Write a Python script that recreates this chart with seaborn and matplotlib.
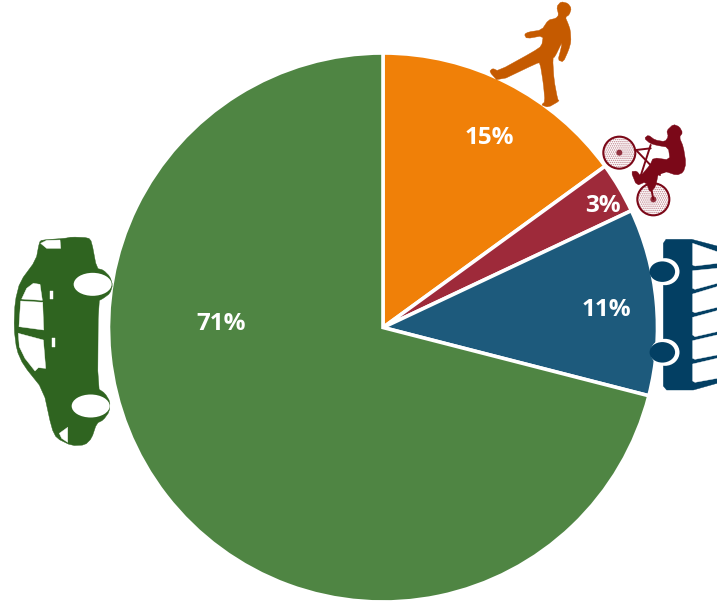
import matplotlib
matplotlib.use("Agg")
import matplotlib.pyplot as plt
import seaborn as sns
from matplotlib.patches import Polygon, Ellipse, Circle

# Share of trips by travel mode, clockwise from twelve o'clock
modes = ["Walking", "Cycling", "Public transport", "Car"]
shares = [15, 3, 11, 71]
wedge_colors = ["#F08008", "#9E2A3A", "#1D5A7C", "#4F8543"]
icon_colors = ["#C55A00", "#7B0818", "#033F63", "#2F6420"]

# Label anchors in pie units
label_xy = [(0.386, 0.690), (0.803, 0.442), (0.814, 0.062), (-0.588, 0.014)]

W, H = 717, 604
CX, CY, R = 383.0, 327.5, 274.5

sns.set_theme(style="white")
plt.rcParams["font.family"] = ["Open Sans", "DejaVu Sans"]
plt.rcParams["hatch.linewidth"] = 0.7

fig = plt.figure(figsize=(W / 100, H / 100), dpi=100, facecolor="white")
ax = fig.add_axes([(CX - R) / W, (H - CY - R) / H, 2 * R / W, 2 * R / H])
ax.pie(shares, colors=sns.color_palette(wedge_colors), startangle=90, counterclock=False,
       radius=1.0, wedgeprops=dict(edgecolor="white", linewidth=2.6))
ax.set_xlim(-1, 1)
ax.set_ylim(-1, 1)
ax.set_aspect("equal")
for value, (x, y) in zip(shares, label_xy):
    ax.text(x, y, f"{value}%", color="white", fontsize=17.5, fontweight="bold",
            ha="center", va="center")

# Pictograms sit on a pixel-addressed overlay
ov = fig.add_axes([0, 0, 1, 1], facecolor="none")
ov.set_xlim(0, W)
ov.set_ylim(H, 0)
ov.axis("off")


def scaled(points, ox, oy):
    return [(ox + x / 3, oy + y / 3) for x, y in points]


def rounded(points, passes=1):
    # Corner cutting softens the silhouettes
    for _ in range(passes):
        out = []
        n = len(points)
        for i in range(n):
            (x0, y0), (x1, y1) = points[i], points[(i + 1) % n]
            out.append((0.8 * x0 + 0.2 * x1, 0.8 * y0 + 0.2 * y1))
            out.append((0.2 * x0 + 0.8 * x1, 0.2 * y0 + 0.8 * y1))
        points = out
    return points


def shape(points, ox, oy, color, z=2):
    ov.add_patch(Polygon(scaled(points, ox, oy), closed=True, facecolor=color,
                         edgecolor=color, linewidth=0.3, zorder=z))


# Pedestrian
walker = [(230, 20), (243, 5), (264, 10), (274, 25), (268, 44), (256, 52), (264, 70), (271, 90),
          (273, 125), (266, 150), (250, 186), (234, 180), (242, 150), (247, 125),
          (225, 170), (218, 175), (222, 240), (233, 298), (238, 303), (205, 322), (184, 315),
          (195, 305), (190, 250), (180, 188), (170, 190), (55, 245), (28, 215), (38, 205),
          (55, 213), (160, 155), (185, 138), (190, 107), (140, 116), (133, 103), (145, 96),
          (185, 90), (205, 60), (228, 55), (236, 45)]
shape(rounded(walker), 480, 0, icon_colors[0])

# Cyclist
rider = [(560, 392), (580, 373), (598, 380), (608, 398), (598, 412), (610, 440), (618, 490),
         (610, 517), (590, 526), (555, 514), (535, 520), (527, 560), (510, 578), (498, 545),
         (470, 557), (453, 515), (470, 513), (482, 528), (510, 495), (520, 473), (570, 480),
         (565, 442), (530, 436), (510, 430), (493, 415), (505, 405), (525, 420), (555, 425),
         (565, 410)]
shape(rounded(rider), 480, 0, icon_colors[1], z=4)
for cx, cy in [(418, 458), (520, 598)]:
    centre = (480 + cx / 3, cy / 3)
    ov.add_patch(Circle(centre, 15.5, facecolor="white", edgecolor="#BC7C86",
                        hatch="........", linewidth=0, zorder=2))
    ov.add_patch(Circle(centre, 16.0, facecolor="none", edgecolor=icon_colors[1],
                        linewidth=1.5, zorder=3))
    ov.add_patch(Circle(centre, 3.0, facecolor=icon_colors[1], edgecolor="none", alpha=0.8, zorder=3))
for seg in [[(468, 450), (512, 445)], [(512, 435), (478, 540)], [(478, 540), (555, 515)],
            [(505, 520), (520, 598)], [(468, 450), (540, 525)]]:
    xs, ys = zip(*scaled(seg, 480, 0))
    ov.plot(xs, ys, color=icon_colors[1], lw=1.4, zorder=3, solid_capstyle="round")

# Bus, front on, running off the right-hand edge
bus_ox, bus_oy = 600, 220
bus = [(190, 70), (198, 58), (275, 58), (351, 78), (351, 490), (280, 510), (200, 510), (190, 498)]
shape(bus, bus_ox, bus_oy, icon_colors[2])
panes = [[(278, 70), (351, 95), (351, 130), (285, 138), (278, 135)],
         [(278, 152), (351, 145), (351, 190), (285, 208), (278, 205)],
         [(278, 222), (351, 200), (351, 262), (285, 278), (278, 275)],
         [(278, 292), (351, 272), (351, 335), (285, 350), (278, 345)],
         [(278, 362), (351, 345), (351, 405), (285, 418), (278, 415)],
         [(278, 432), (351, 415), (351, 475), (285, 487), (278, 483)]]
for pane in panes:
    shape(pane, bus_ox, bus_oy, "white", z=3)
for cy in (155, 397):
    # White halo shows only on the bus side of each wheel
    ov.add_patch(Ellipse((bus_ox + 195 / 3, bus_oy + cy / 3), 29, 27, facecolor="white",
                         edgecolor="none", zorder=4))
    ov.add_patch(Ellipse((bus_ox + 187 / 3, bus_oy + cy / 3), 25.5, 20.5, facecolor=icon_colors[2],
                         edgecolor="none", zorder=5))

# Car, seen from the side and standing on its nose
car_ox, car_oy = 0, 225
car = [(118, 52), (125, 45), (195, 40), (215, 36), (265, 38), (275, 50), (290, 130), (310, 135),
       (330, 155), (338, 180), (330, 205), (310, 220), (295, 228), (293, 490), (315, 505),
       (330, 530), (328, 560), (310, 585), (290, 595), (275, 640), (255, 660), (215, 662),
       (170, 640), (155, 610), (130, 495), (70, 420), (50, 375), (42, 310), (45, 230),
       (60, 170), (108, 105)]
shape(rounded(car), car_ox, car_oy, icon_colors[3])
car_glass = [[(65, 222), (80, 190), (100, 175), (120, 178), (127, 226)],
             [(62, 228), (128, 232), (131, 315), (57, 305)],
             [(55, 325), (130, 345), (137, 430), (115, 428), (105, 438), (75, 400), (58, 365)],
             [(151, 197), (158, 197), (158, 223), (151, 223)],
             [(156, 340), (164, 340), (164, 365), (156, 365)],
             [(122, 55), (140, 46), (180, 45), (182, 70), (140, 70)],
             [(178, 625), (203, 607), (203, 652), (185, 640)]]
for pane in car_glass:
    shape(pane, car_ox, car_oy, "white", z=3)
for ex, ey in [(278, 178), (272, 543)]:
    ov.add_patch(Ellipse((car_ox + ex / 3, car_oy + ey / 3), 38, 23, facecolor="white",
                         edgecolor="none", zorder=3))

fig.savefig("out.png", dpi=100, facecolor="white")
